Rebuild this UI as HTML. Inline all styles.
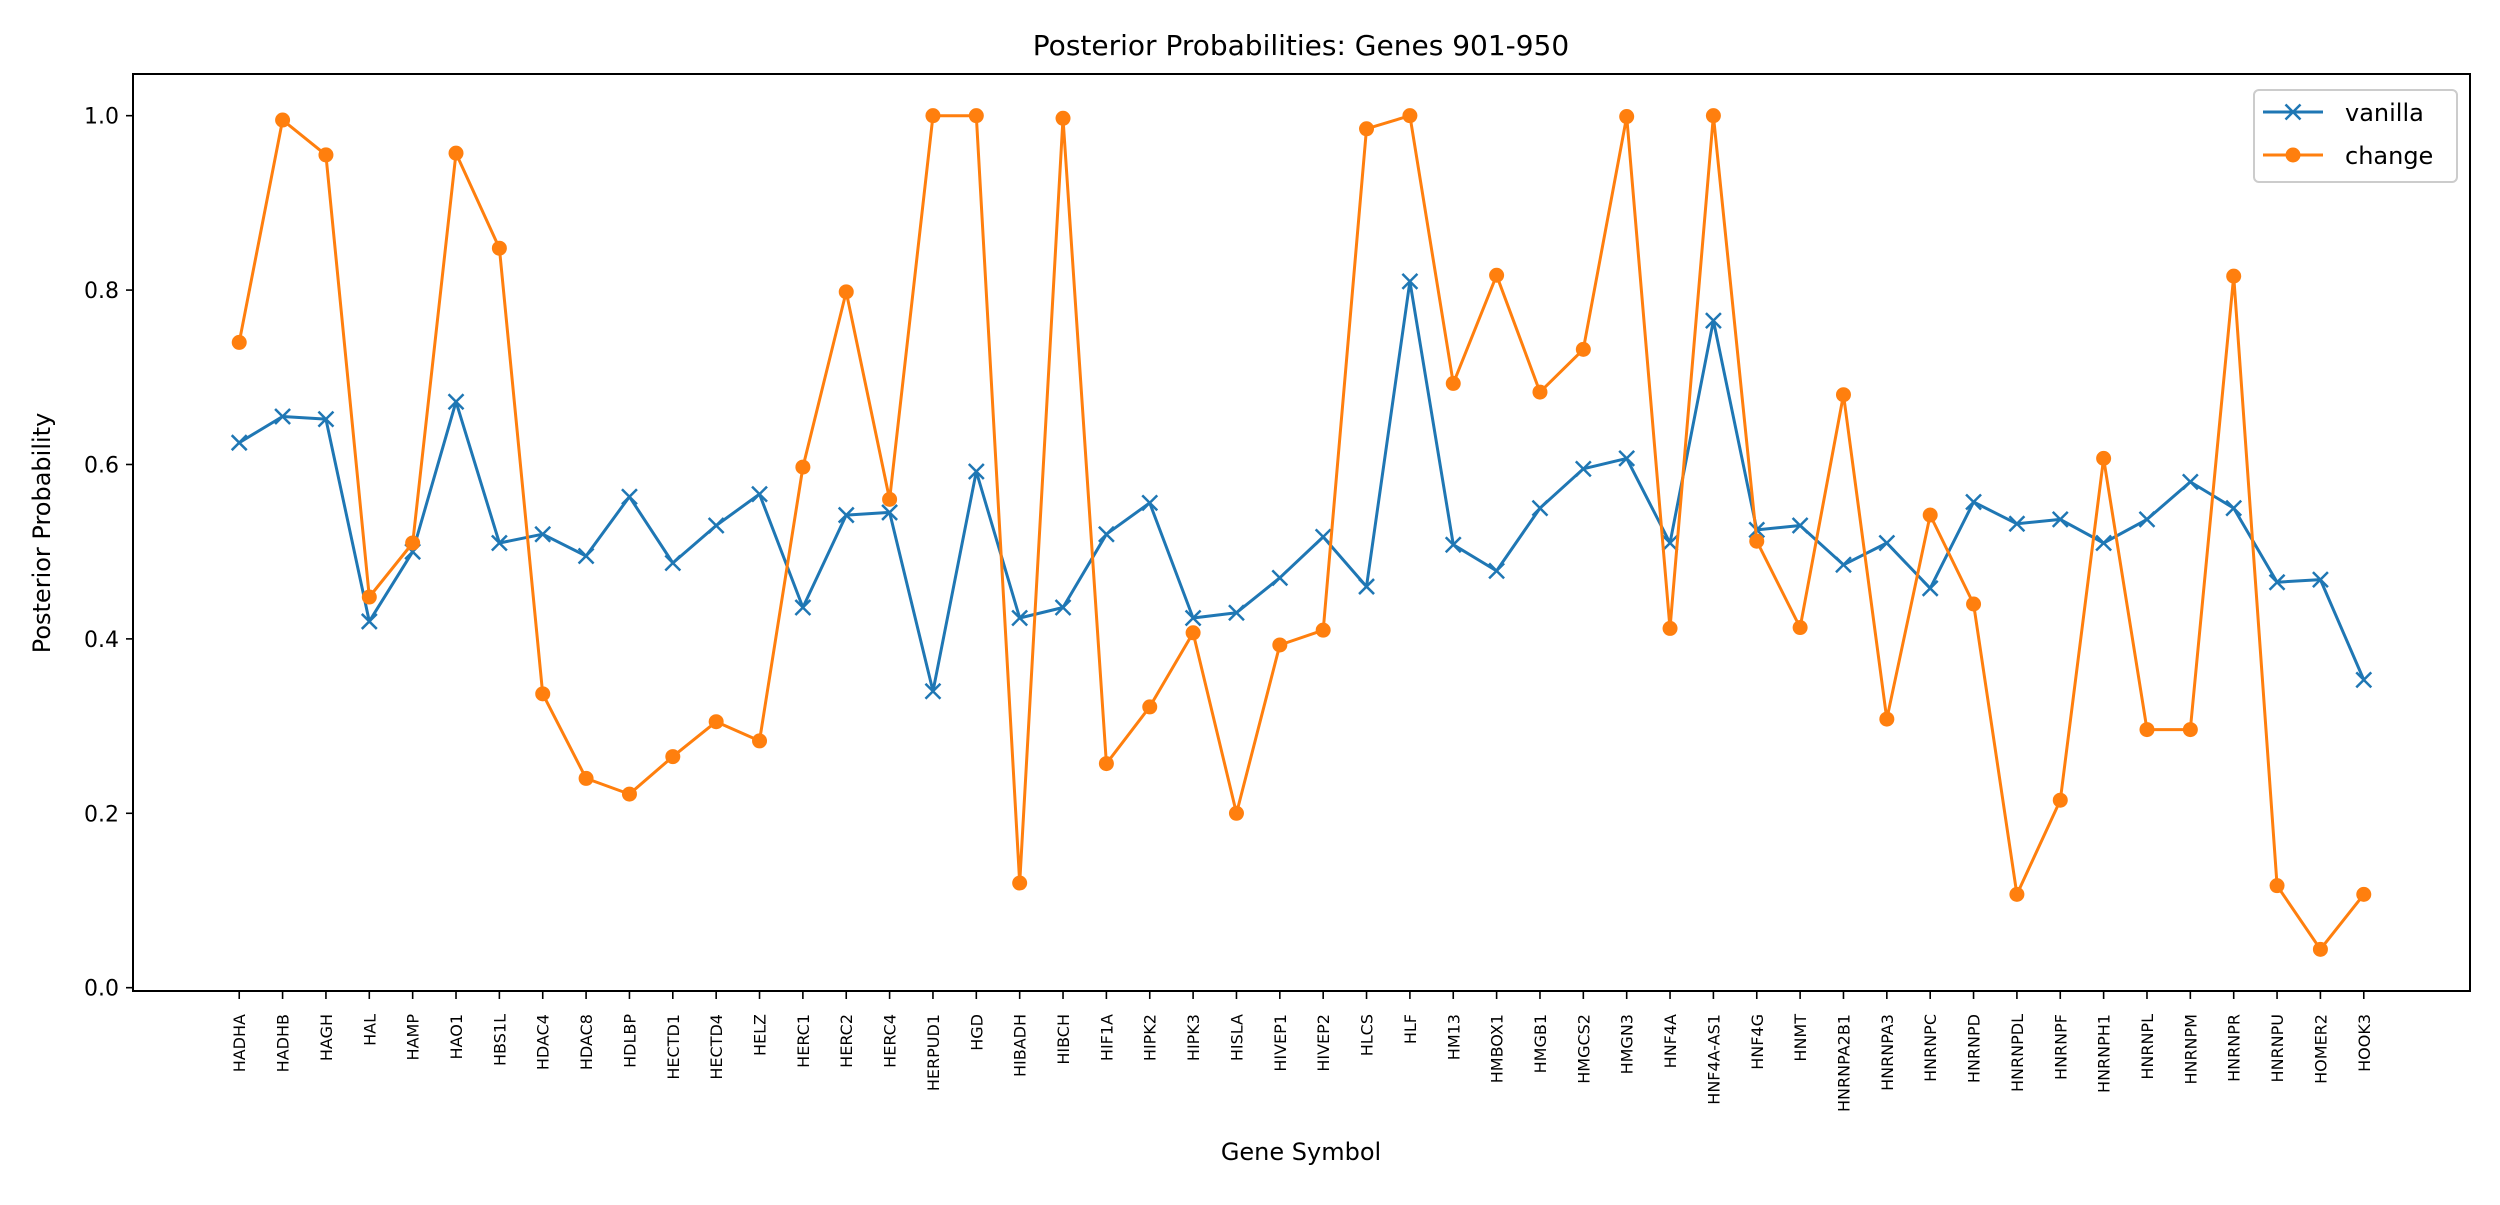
<!DOCTYPE html>
<html><head><meta charset="utf-8"><style>
html,body{margin:0;padding:0;background:#fff;}
svg text{font-family:"DejaVu Sans","Liberation Sans",sans-serif;fill:#000;}
</style></head><body>
<svg id="chart" width="2500" height="1200" xmlns="http://www.w3.org/2000/svg">
<rect x="0" y="0" width="2500" height="1200" fill="#fff"/>
<text x="1301" y="55" font-size="28" text-anchor="middle">Posterior Probabilities: Genes 901-950</text>
<text x="1301" y="1160" font-size="24" text-anchor="middle">Gene Symbol</text>
<text transform="translate(50,533) rotate(-90)" font-size="24" text-anchor="middle">Posterior Probability</text>
<g id="plot"></g>
<rect x="133" y="74" width="2337" height="917" fill="none" stroke="#000" stroke-width="2"/>
<g>
<rect x="2254" y="90" width="203" height="92" rx="5" fill="#fff" fill-opacity="0.8" stroke="#ccc" stroke-width="2"/>
<g>
<line x1="2263" y1="112" x2="2323" y2="112" stroke="#1f77b4" stroke-width="3"/>
<path d="M2285.5,104.5 L2300.5,119.5 M2285.5,119.5 L2300.5,104.5" stroke="#1f77b4" stroke-width="2.5"/>
<text x="2345" y="121" font-size="24">vanilla</text>
</g>
<g>
<line x1="2263" y1="155" x2="2323" y2="155" stroke="#ff7f0e" stroke-width="3"/>
<circle cx="2293" cy="155" r="7.5" fill="#ff7f0e"/>
<text x="2345" y="164" font-size="24">change</text>
</g>
</g>
</svg>
<script>
const genes = ["HADHA","HADHB","HAGH","HAL","HAMP","HAO1","HBS1L","HDAC4","HDAC8","HDLBP","HECTD1","HECTD4","HELZ","HERC1","HERC2","HERC4","HERPUD1","HGD","HIBADH","HIBCH","HIF1A","HIPK2","HIPK3","HISLA","HIVEP1","HIVEP2","HLCS","HLF","HM13","HMBOX1","HMGB1","HMGCS2","HMGN3","HNF4A","HNF4A-AS1","HNF4G","HNMT","HNRNPA2B1","HNRNPA3","HNRNPC","HNRNPD","HNRNPDL","HNRNPF","HNRNPH1","HNRNPL","HNRNPM","HNRNPR","HNRNPU","HOMER2","HOOK3"];
const vanilla = [0.625,0.655,0.652,0.42,0.50,0.672,0.51,0.52,0.495,0.563,0.487,0.53,0.566,0.436,0.542,0.545,0.34,0.592,0.424,0.436,0.52,0.556,0.424,0.43,0.47,0.517,0.46,0.81,0.508,0.478,0.55,0.595,0.607,0.51,0.765,0.525,0.53,0.485,0.51,0.458,0.557,0.532,0.537,0.51,0.537,0.58,0.55,0.465,0.468,0.353];
const change = [0.74,0.995,0.955,0.448,0.51,0.957,0.848,0.337,0.24,0.222,0.265,0.305,0.283,0.597,0.798,0.56,1.0,1.0,0.12,0.997,0.257,0.322,0.407,0.2,0.393,0.41,0.985,1.0,0.693,0.817,0.683,0.732,0.999,0.412,1.0,0.512,0.413,0.68,0.308,0.542,0.44,0.107,0.215,0.607,0.296,0.296,0.816,0.117,0.044,0.107];
const yTicks = [0.0,0.2,0.4,0.6,0.8,1.0];
const yTickLabels = ["0.0","0.2","0.4","0.6","0.8","1.0"];

const NS = "http://www.w3.org/2000/svg";
const L = 133, R = 2470, T = 74, B = 991;
const n = genes.length;
const xPad = 0.05 * (n - 1);
const xMin = -xPad, xMax = n - 1 + xPad;
const all = vanilla.concat(change);
const dMin = Math.min(...all), dMax = Math.max(...all);
const yPad = 0.05 * (dMax - dMin);
const yMin = dMin - yPad, yMax = dMax + yPad;
const xs = i => L + (i - xMin) / (xMax - xMin) * (R - L);
const ys = v => B - (v - yMin) / (yMax - yMin) * (B - T);
const plot = document.getElementById('plot');
function mk(tag, attrs) {
  const e = document.createElementNS(NS, tag);
  for (const k in attrs) e.setAttribute(k, attrs[k]);
  plot.appendChild(e);
  return e;
}
yTicks.forEach((v, i) => {
  const y = ys(v);
  const t = mk('line', {x1: L - 7, y1: y, x2: L, y2: y, stroke: '#000', 'stroke-width': 1.6});
  
  
  const lb = mk('text', {x: L - 14, y: y + 8, 'font-size': 22, 'text-anchor': 'end'});
  lb.textContent = yTickLabels[i];
  
  
});
genes.forEach((g, i) => {
  const x = xs(i);
  const t = mk('line', {x1: x, y1: B, x2: x, y2: B + 8, stroke: '#000', 'stroke-width': 1.6});
  
  
  const lb = mk('text', {x: x + 6, y: 1014, 'font-size': 16, 'text-anchor': 'end', transform: `rotate(-90 ${x + 6} 1014)`});
  lb.textContent = g;
  
  
});
function series(vals, color, name, marker) {
  const pts = vals.map((v, i) => xs(i).toFixed(1) + ',' + ys(v).toFixed(1)).join(' ');
  const pl = mk('polyline', {points: pts, fill: 'none', stroke: color, 'stroke-width': 3, 'stroke-linejoin': 'round'});
  
  
  vals.forEach((v, i) => {
    const x = xs(i), y = ys(v);
    let m;
    if (marker === 'x') {
      m = mk('path', {d: `M${x-7.5},${y-7.5}L${x+7.5},${y+7.5}M${x-7.5},${y+7.5}L${x+7.5},${y-7.5}`, stroke: color, 'stroke-width': 2.5});
    } else {
      m = mk('circle', {cx: x, cy: y, r: 7.5, fill: color});
    }
    
    
  });
}
series(vanilla, '#1f77b4', 'vanilla', 'x');
series(change, '#ff7f0e', 'change', 'o');
</script>
</body></html>
